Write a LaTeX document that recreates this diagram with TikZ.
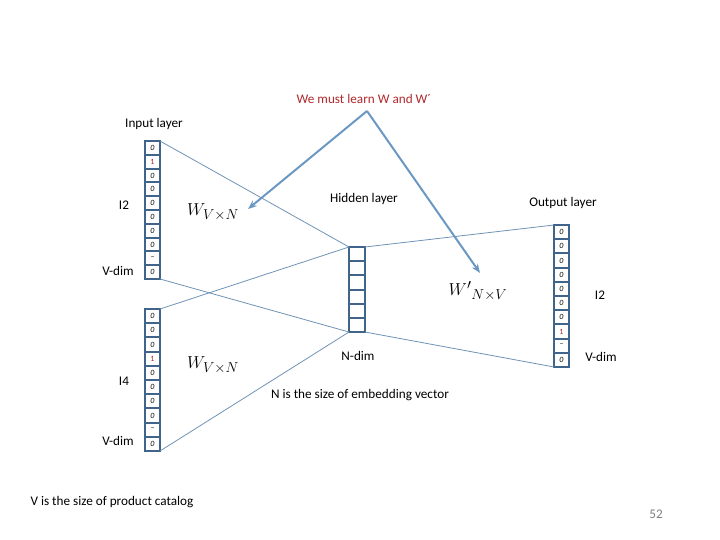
\documentclass[tikz,border=0pt]{standalone}
\usepackage{fontspec}
\setmainfont{Carlito}
\usetikzlibrary{arrows.meta}
\definecolor{cellc}{HTML}{41658A}
\definecolor{linec}{HTML}{6F93B6}
\definecolor{arrc}{HTML}{6A98C2}
\definecolor{redt}{HTML}{B0282C}
\begin{document}
\begin{tikzpicture}[x=1pt,y=-1pt,
  cell/.style={draw=cellc,line width=2pt,minimum width=15pt,inner sep=0pt,outer sep=0pt,font=\fontsize{8}{8}\selectfont\itshape},
  lbl/.style={font=\fontsize{13.2}{13.2}\selectfont,inner sep=0pt},
  conn/.style={draw=linec,line width=0.8pt},
  learn/.style={draw=arrc,line width=2pt,-{Stealth[length=9pt,width=7pt]}},
  wlbl/.style={font=\fontsize{19}{19}\selectfont,inner sep=0pt}]
\useasboundingbox (0,0) rectangle (720,540);
% input column 1
\foreach \t [count=\i] in {0,{\textcolor{redt}{\upshape 1}},0,0,0,0,0,0,{\raisebox{-1pt}{–}},0}
  \node[cell,minimum height=13.8pt] (a\i) at (152.5,{141+13.8*(\i-0.5)}) {\t};
% input column 2
\foreach \t [count=\i] in {0,0,0,{\textcolor{redt}{\upshape 1}},0,0,0,0,{\raisebox{-1pt}{–}},0}
  \node[cell,minimum height=14.2pt] (b\i) at (152.5,{309+14.2*(\i-0.5)}) {\t};
% hidden
\foreach \i in {1,...,6}
  \node[cell,minimum width=16pt,minimum height=14.17pt] (h\i) at (357,{247+14.17*(\i-0.5)}) {};
% output
\foreach \t [count=\i] in {0,0,0,0,0,0,0,{\textcolor{redt}{\upshape 1}},{\raisebox{-1pt}{–}},0}
  \node[cell,minimum height=14.2pt] (o\i) at (561.5,{225+14.2*(\i-0.5)}) {\t};
% connectors
\draw[conn] (a1.north east) -- (h1.north west);
\draw[conn] (a10.south east) -- (h6.south west);
\draw[conn] (b1.north east) -- (h1.north west);
\draw[conn] (b10.south east) -- (h6.south west);
\draw[conn] (h1.north east) -- (o1.north west);
\draw[conn] (h6.south east) -- (o10.south west);
% labels
\node[lbl,text=redt] (title) at (364,99) {We must learn W and W´};
\node[lbl] (inl) at (154,124) {Input layer};
\node[lbl] (hidl) at (364,199) {Hidden layer};
\node[lbl] (outl) at (563,203) {Output layer};
\node[lbl] (i2a) at (124,205) {I2};
\node[lbl] (vd1) at (118,271) {V-dim};
\node[lbl] (i4) at (124,381) {I4};
\node[lbl] (vd2) at (118,441) {V-dim};
\node[lbl] (i2b) at (600,295) {I2};
\node[lbl] (vd3) at (601,357) {V-dim};
\node[lbl] (nd) at (358,356) {N-dim};
\node[lbl] (nsz) at (360,395) {N is the size of embedding vector};
\node[lbl] (vsz) at (112,502) {V is the size of product catalog};
\node[lbl,text=gray] (pg) at (656,514) {52};
\node[wlbl] (w1) at (213,212) {$W_{V\times N}$};
\node[wlbl] (w2) at (213,365) {$W_{V\times N}$};
\node[wlbl] (w3) at (478,291) {$W'{}_{N\times V}$};
% arrows
\coordinate (apex) at (367,111);
\coordinate (e1) at (248,209);
\coordinate (e2) at (480,273);
\draw[learn,line join=round] (apex) -- (e1);
\draw[learn] (apex) -- (e2);
\end{tikzpicture}
\end{document}
